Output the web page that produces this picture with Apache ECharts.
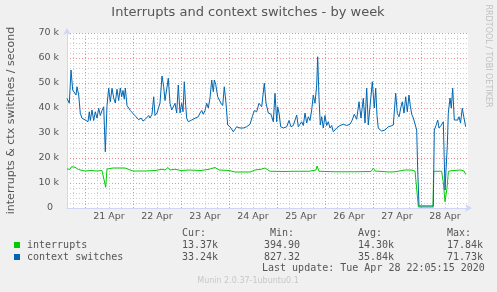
<!DOCTYPE html>
<html><head><meta charset="utf-8">
<script src="https://cdn.jsdelivr.net/npm/echarts@6/dist/echarts.min.js"></script>
<style>html,body{margin:0;padding:0;background:#f0f0f0;}#c{width:497px;height:292px;}</style>
</head><body><div id="c"></div>
<script>
// Time in hours relative to 21 Apr 00:00
const dayTicks = [0, 24, 48, 72, 96, 120, 144, 168];
const dayLabelPos = [12, 36, 60, 84, 108, 132, 156, 180];
const dayLabels = ['21 Apr', '22 Apr', '23 Apr', '24 Apr', '25 Apr', '26 Apr', '27 Apr', '28 Apr'];
const minorTicks = [-6, 6, 12, 18, 30, 36, 42, 54, 60, 66, 78, 84, 90, 102, 108, 114, 126, 132, 138, 150, 156, 162, 174, 180, 186];

// context switches (k/s)
const ctxHours = [-9,-7.85,-7,-6.15,-5.35,-4.5,-4,-3.15,-2.35,-1.5,0.15,1.5,2.15,2.65,3.5,4.35,5.15,6,6.85,7.65,8.5,9.35,10.15,11,11.85,12.65,13.5,14.35,15.15,16,16.85,17.65,18.35,19,19.65,20.15,21,22.65,24.35,25.5,26.85,28,29,30.15,31.85,32.5,33.5,34.35,35,36,36.85,37.5,38.5,39.35,40,40.85,41.65,42.5,43.35,44.15,45,45.85,46.65,47.5,48.35,49,49.65,50.35,50.85,51.65,53.35,55,56.65,57.5,58.35,59.15,60,60.85,61.65,62.5,63.35,64.15,64.65,65.35,66.35,67.15,68,68.85,69.65,70.5,71.35,72.5,74.15,75.85,77.5,79.15,80.85,82.5,83.65,84.65,85.85,87,88.35,89.65,90.5,91.65,93,94.15,95,95.85,96.35,97,97.85,99.15,100.85,102,103,104.15,105,105.85,106.65,107.5,108.35,109.15,110,110.85,111.65,112.5,113.35,114.15,115,115.85,116.35,117,117.65,118.35,119.15,120,120.85,121.65,122.5,123.35,124.15,125.85,127.5,129.15,130.85,132.5,133.5,134.65,135.85,137,138,139.15,140,140.85,141.65,142.5,143.65,144.65,145.35,146,146.65,147.5,148.35,150,151.65,153,154.15,155.35,156.15,157,158,158.65,159.5,160.35,161.15,162,162.65,163.35,164.15,165,165.85,166.35,167,174.15,174.65,175.5,176.35,177,178,179.15,180,180.5,181.15,181.65,182.5,183.15,183.85,184.65,185.5,186.35,187,187.75,188.65,189.5,190.35];
const ctxValues = [43.9,41.9,55.2,47.2,46.5,45.2,48.5,45.2,37.9,35.9,35.2,34.5,38.5,35,39.2,35,38.5,36,39.9,37,39,40.5,22.5,41,47.9,42.5,47.9,44,42,47.5,43,48,44.5,47,43.5,48,41,39,37.5,36.5,35.3,36,34.8,35.5,37,36,37.5,44.5,37,38,37.5,42,52.8,48.5,43,42.9,51.9,41.9,39.2,38.5,41.9,38,49.2,38,41.9,38.5,50.5,41,35.9,34.5,35.2,35.9,36.5,38,39,37.5,39,41.9,40,44,51.2,46.5,51.2,49.5,44.5,45,41.9,41,48.5,41.9,33.2,32.5,30.5,32.5,32,32,32.5,33.5,36.5,39,38.5,41.9,40.5,49.9,42,38,37.5,34.5,45.9,34.5,40.5,38,32.5,32,32.5,35,32.5,33,33.5,37.2,32.5,33.5,34.5,33,38,34,36.5,35,39.2,45.2,41.9,49.2,60.5,44,33.2,36.5,32,37,33,34.5,32,33,30.5,32,33,33.5,33,33.5,35,37.5,35.5,42.5,36,43.9,34,47.9,33.2,32.5,50.5,40,47.9,37,31.9,31.2,30.8,31.2,32.5,32.8,33.2,45.9,37.9,36.5,40.5,42.5,38,44.5,38.5,45.2,41,37.5,36,36.5,31.2,15.2,0.83,0.83,31.2,33,35.2,32,33,34.5,7.2,6.5,25,37.9,44,40,47.9,35.2,36,35.2,36.5,34,39.9,36,32.5];

// interrupts (k/s)
const intHours = [-9,-8,-7.5,-6.8,-6,-5,-4,-3.3,-2.5,0,3,6,8.5,9.5,10.35,11,14,20,24,30,35,38.5,39,40,41.5,42.5,45,48,52,58,62,65,67,72,75,82.5,85,88,90,92.5,100,104,105,106,112,115.5,116,117,125,135,143,144.2,145,152,155,155.8,160,163,165,165.8,166.7,174,174.3,178.3,179.2,180,181,181.7,184,188,189.5,190.35];
const intValues = [15.6,15.8,15.5,16.5,15.8,16.3,16.2,15.4,14.8,14.8,15,14.8,15,14.8,8.3,15.6,16,16,14.8,14.8,15,15.5,16.2,15.2,16.2,15.2,15.5,15,15.2,15,15.5,16.2,15.2,15,14.4,14.4,15.2,15.5,16,14.7,14.6,14.7,14,14.7,14.7,15.2,16.8,14.7,14.5,14.5,14.6,16,14.8,14.4,14.5,15.2,15.2,15.2,14.8,14.7,0.4,0.4,14.7,14.7,10,2.5,8,14.7,15,15.2,14.8,13.4];

// legend table
const legendNames = ['interrupts', 'context switches'];
const legendColors = ['#00cc00', '#0066b3'];
const curVals = ['13.37k', '33.24k'];
const minVals = ['394.90', '827.32'];
const avgVals = ['14.30k', '35.84k'];
const maxVals = ['17.84k', '71.73k'];
const lastUpdate = 'Last update: Tue Apr 28 22:05:15 2020';

const zip = (a, b) => a.map((v, i) => [v, b[i]]);
const txt = '#555';
const mono = '10px "DejaVu Sans Mono", monospace';

const graphic = [];
function addText(x, y, s, font, fill, align, rot) {
  graphic.push({type: 'text', x: x, y: y, rotation: rot || 0, silent: true,
    style: {text: s, font: font, fill: fill, align: align || 'left', verticalAlign: 'middle'}});
}
addText(248, 13, 'Interrupts and context switches - by week', '13px "DejaVu Sans"', txt, 'center');
addText(488, 56, 'RRDTOOL / TOBI OETIKER', '8px "DejaVu Sans"', '#c0c0c0', 'center', -Math.PI / 2);
addText(182, 233, 'Cur:', mono, txt);
addText(270, 233, 'Min:', mono, txt);
addText(358, 233, 'Avg:', mono, txt);
addText(447, 233, 'Max:', mono, txt);
legendNames.forEach((n, i) => {
  const y = 245 + i * 12;
  graphic.push({type: 'rect', shape: {x: 14, y: y - 3, width: 6, height: 6}, style: {fill: legendColors[i]}, silent: true});
  addText(27, y, n, mono, txt);
  addText(182, y, curVals[i], mono, txt);
  addText(264, y, minVals[i], mono, txt);
  addText(358, y, avgVals[i], mono, txt);
  addText(447, y, maxVals[i], mono, txt);
});
addText(262, 268.5, lastUpdate, mono, txt);
addText(248, 281, 'Munin 2.0.37-1ubuntu0.1', '8px "DejaVu Sans"', '#c8c8c8', 'center');

const chart = echarts.init(document.getElementById('c'), null, {renderer: 'canvas'});
chart.setOption({
  animation: false,
  backgroundColor: '#f0f0f0',
  grid: {left: 67, right: 29, top: 33, bottom: 84, show: true, backgroundColor: '#ffffff', borderWidth: 0,
    containLabel: false, outerBoundsMode: 'none'},
  xAxis: [{
    type: 'value', min: -9, max: 191.5, position: 'bottom',
    axisLine: {show: false, onZero: false},
    axisTick: {show: false, customValues: minorTicks},
    axisLabel: {show: false},
    splitLine: {show: true, lineStyle: {color: '#cccccc', type: [1, 2], width: 1}}
  }, {
    type: 'value', min: -9, max: 191.5, position: 'bottom',
    axisLine: {show: true, onZero: false, lineStyle: {color: '#cfd6f8', width: 1}, symbol: ['none', 'arrow'], symbolSize: [6, 7], symbolOffset: [0, 4]},
    axisTick: {show: false, customValues: dayTicks},
    axisLabel: {show: true, customValues: dayLabelPos, margin: 4, color: txt,
      fontFamily: 'DejaVu Sans', fontSize: 9.5,
      formatter: v => dayLabels[dayLabelPos.indexOf(Math.round(v))] || ''},
    splitLine: {show: true, lineStyle: {color: '#e89090', type: [1, 2], width: 1}}
  }],
  yAxis: {
    type: 'value', min: 0, max: 70, interval: 10,
    name: 'interrupts & ctx switches / second', nameLocation: 'middle', nameGap: 50, nameRotate: 90,
    nameTextStyle: {color: txt, fontFamily: 'DejaVu Sans', fontSize: 11},
    axisLine: {show: true, onZero: false, lineStyle: {color: '#cfd6f8', width: 1}, symbol: ['none', 'arrow'], symbolSize: [6, 7], symbolOffset: [0, 5]},
    axisTick: {show: false},
    axisLabel: {margin: 8, color: txt, fontFamily: 'DejaVu Sans', fontSize: 9.5,
      formatter: v => v === 0 ? '0  ' : v + ' k'},
    splitLine: {show: true, lineStyle: {color: '#e89090', type: [1, 2], width: 1}},
    minorTick: {show: false, splitNumber: 5},
    minorSplitLine: {show: true, lineStyle: {color: '#cccccc', type: [1, 2], width: 1}}
  },
  series: [{
    type: 'line', xAxisIndex: 1, data: zip(intHours, intValues), showSymbol: false,
    lineStyle: {color: '#00cc00', width: 1}, itemStyle: {color: '#00cc00'}
  }, {
    type: 'line', xAxisIndex: 1, data: zip(ctxHours, ctxValues), showSymbol: false,
    lineStyle: {color: '#0066b3', width: 1}, itemStyle: {color: '#0066b3'}
  }],
  graphic: graphic
});
</script></body></html>
